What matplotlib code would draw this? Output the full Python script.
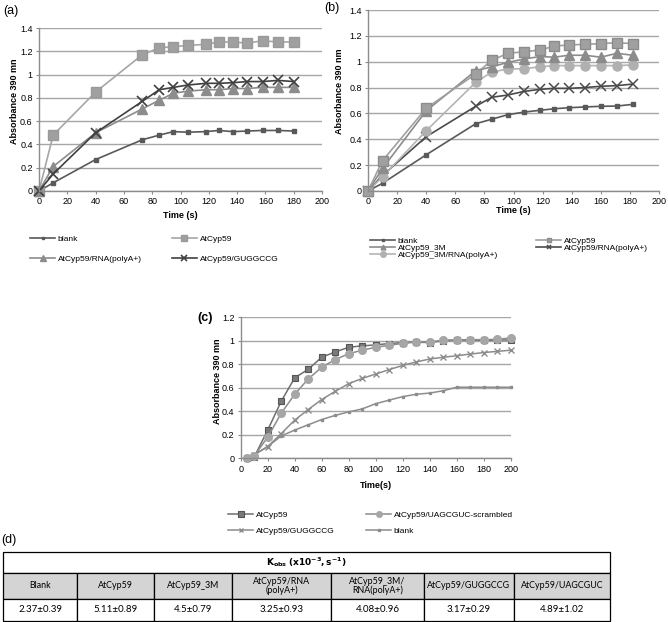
import numpy as np
import matplotlib
matplotlib.use("Agg")
import matplotlib.pyplot as plt
from matplotlib.lines import Line2D

W, H = 668, 622
CF = ['Liberation Sans Narrow', 'Liberation Sans', 'DejaVu Sans']
plt.rcParams['font.family'] = CF

# ---------------- data ----------------
ta = [0, 10, 40, 73, 85, 95, 105, 118, 127, 137, 147, 158, 169, 180]
a_blank = [0, 0.07, 0.27, 0.44, 0.48, 0.51, 0.505, 0.51, 0.52, 0.51, 0.515, 0.52, 0.52, 0.515]
a_cyp = [0, 0.48, 0.85, 1.17, 1.23, 1.24, 1.25, 1.26, 1.28, 1.28, 1.27, 1.29, 1.28, 1.28]
a_rna = [0, 0.21, 0.50, 0.705, 0.78, 0.84, 0.857, 0.87, 0.87, 0.88, 0.88, 0.89, 0.89, 0.89]
a_gug = [0, 0.146, 0.50, 0.77, 0.87, 0.89, 0.91, 0.925, 0.925, 0.93, 0.94, 0.94, 0.95, 0.94]

tb = [0, 10, 40, 74, 85, 96, 107, 118, 128, 138, 149, 160, 171, 182]
b_blank = [0, 0.06, 0.28, 0.52, 0.555, 0.59, 0.61, 0.624, 0.636, 0.644, 0.65, 0.655, 0.657, 0.67]
b_cyp = [0, 0.235, 0.64, 0.905, 1.01, 1.064, 1.077, 1.09, 1.12, 1.13, 1.134, 1.14, 1.147, 1.14]
b_3m = [0, 0.175, 0.62, 0.93, 0.96, 0.995, 1.02, 1.04, 1.035, 1.05, 1.05, 1.035, 1.065, 1.05]
b_3mrna = [0, 0.11, 0.466, 0.84, 0.92, 0.943, 0.946, 0.96, 0.97, 0.97, 0.97, 0.97, 0.97, 0.975]
b_rna = [0, 0.12, 0.42, 0.655, 0.725, 0.742, 0.77, 0.786, 0.794, 0.794, 0.80, 0.81, 0.815, 0.827]

tc = [5, 10, 20, 30, 40, 50, 60, 70, 80, 90, 100, 110, 120, 130, 140, 150, 160, 170, 180, 190, 200]
c_cyp = [0, 0.01, 0.24, 0.485, 0.685, 0.757, 0.86, 0.905, 0.945, 0.957, 0.965, 0.977, 0.985,
         0.988, 0.985, 1.0, 1.005, 1.005, 1.005, 1.005, 1.008]
c_scr = [0, 0.02, 0.18, 0.383, 0.545, 0.675, 0.775, 0.84, 0.89, 0.92, 0.945, 0.962, 0.978,
         0.99, 0.99, 1.005, 1.008, 1.01, 1.01, 1.012, 1.025]
c_gug = [0, 0.03, 0.1, 0.21, 0.325, 0.415, 0.5, 0.57, 0.635, 0.68, 0.717, 0.755, 0.79,
         0.82, 0.845, 0.86, 0.873, 0.887, 0.9, 0.91, 0.92]
c_blank = [0, 0.03, 0.1, 0.19, 0.24, 0.285, 0.33, 0.365, 0.395, 0.42, 0.465, 0.495, 0.525,
           0.545, 0.555, 0.575, 0.605, 0.605, 0.605, 0.605, 0.605]

tbl_cols = ['Blank', 'AtCyp59', 'AtCyp59_3M', 'AtCyp59/RNA\n(polyA+)', 'AtCyp59_3M/\nRNA(polyA+)',
            'AtCyp59/GUGGCCG', 'AtCyp59/UAGCGUC']
tbl_vals = ['2.37±0.39', '5.11±0.89', '4.5±0.79', '3.25±0.93', '4.08±0.96', '3.17±0.29', '4.89±1.02']
tbl_title = r'$\mathbf{K_{obs}}$ $\mathbf{(x10^{-3},s^{-1})}$'

# ---------------- figure ----------------
fig = plt.figure(figsize=(W / 100, H / 100), dpi=100)


def px_axes(l, t, r, b):
    return fig.add_axes([l / W, 1 - b / H, (r - l) / W, (b - t) / H])


GRID = '#a6a6a6'


def style(ax, ymax, ystep, ylabel, xlabel, ylab_x, xlab_y):
    ax.set_xlim(0, 200)
    ax.set_ylim(0, ymax)
    ax.set_xticks(range(0, 201, 20))
    yt = np.round(np.arange(0, ymax + 1e-9, ystep), 2)
    ax.set_yticks(yt)
    ax.set_yticklabels(['%g' % v for v in yt])
    ax.yaxis.grid(True, color=GRID, lw=1.0)
    ax.set_axisbelow(True)
    for s in ('top', 'right'):
        ax.spines[s].set_visible(False)
    for s in ('left', 'bottom'):
        ax.spines[s].set_color('#8c8c8c')
        ax.spines[s].set_linewidth(1.0)
    ax.tick_params(length=2.5, width=0.8, color='#8c8c8c', labelsize=6.5, pad=2)
    ax.set_ylabel(ylabel, fontsize=6.5, fontweight='bold')
    ax.set_xlabel(xlabel, fontsize=6.5, fontweight='bold')
    ax.yaxis.set_label_coords(ylab_x, 0.55)
    ax.xaxis.set_label_coords(0.5, xlab_y)


def col_legend(items, x_px, y_top_px, fs=6, spacing=1.4, hl=3.0):
    hs = [Line2D([], [], **kw) for kw, _ in items]
    ls = [lab for _, lab in items]
    fig.legend(hs, ls, loc='upper left', bbox_to_anchor=(x_px / W, 1 - y_top_px / H),
               frameon=False, borderpad=0, borderaxespad=0, fontsize=fs, handlelength=hl,
               handletextpad=0.3, labelspacing=spacing)


def small(d, ms):
    d = dict(d)
    d['ms'] = ms
    return d


# ---- (a)
axa = px_axes(39, 28, 322, 191)
sa = {
    'blank': dict(color='#595959', lw=1.2, marker='s', ms=2.5, mfc='#595959', mec='#595959'),
    'cyp': dict(color='#a6a6a6', lw=1.2, marker='s', ms=7, mfc='#a0a0a0', mec='#9a9a9a'),
    'rna': dict(color='#8c8c8c', lw=1.2, marker='^', ms=7, mfc='#8c8c8c', mec='#8c8c8c'),
    'gug': dict(color='#404040', lw=1.2, marker='x', ms=7, mew=1.2, mec='#404040'),
}
axa.plot(ta, a_blank, clip_on=False, **sa['blank'])
axa.plot(ta, a_cyp, clip_on=False, **sa['cyp'])
axa.plot(ta, a_rna, clip_on=False, **sa['rna'])
axa.plot(ta, a_gug, clip_on=False, **sa['gug'])
style(axa, 1.4, 0.2, 'Absorbance 390 mn', 'Time (s)', -0.072, -0.125)

col_legend([(small(sa['blank'], 2), 'blank'), (small(sa['rna'], 4), 'AtCyp59/RNA(polyA+)')],
           30, 235, spacing=1.45)
col_legend([(small(sa['cyp'], 4.5), 'AtCyp59'), (small(sa['gug'], 4), 'AtCyp59/GUGGCCG')],
           172, 235, spacing=1.45)

# ---- (b)
axb = px_axes(368, 10, 659, 191)
sb = {
    'blank': dict(color='#595959', lw=1.2, marker='s', ms=2.5, mfc='#595959', mec='#595959'),
    'cyp': dict(color='#a0a0a0', lw=1.2, marker='s', ms=6.5, mfc='#a0a0a0', mec='#8c8c8c'),
    '3m': dict(color='#8c8c8c', lw=1.2, marker='^', ms=6.5, mfc='#8c8c8c', mec='#8c8c8c'),
    '3mrna': dict(color='#b4b4b4', lw=1.2, marker='o', ms=6.5, mfc='#b0b0b0', mec='#b0b0b0'),
    'rna': dict(color='#4a4a4a', lw=1.2, marker='x', ms=6.5, mew=1.1, mec='#4a4a4a'),
}
axb.plot(tb, b_blank, clip_on=False, **sb['blank'])
axb.plot(tb, b_rna, clip_on=False, **sb['rna'])
axb.plot(tb, b_3mrna, clip_on=False, **sb['3mrna'])
axb.plot(tb, b_3m, clip_on=False, **sb['3m'])
axb.plot(tb, b_cyp, clip_on=False, **sb['cyp'])
style(axb, 1.4, 0.2, 'Absorbance 390 nm', 'Time (s)', -0.082, -0.085)

col_legend([(small(sb['blank'], 2), 'blank'), (small(sb['3m'], 3.5), 'AtCyp59_3M'),
            (small(sb['3mrna'], 4), 'AtCyp59_3M/RNA(polyA+)')], 370, 237, spacing=-0.12, fs=6)
col_legend([(small(sb['cyp'], 3.5), 'AtCyp59'), (small(sb['rna'], 3.5), 'AtCyp59/RNA(polyA+)')],
           536, 237, spacing=-0.12, fs=6)

# ---- (c)
axc = px_axes(240.7, 317.3, 510.7, 458.3)
sc = {
    'cyp': dict(color='#6e6e6e', lw=1.1, marker='s', ms=5, mfc='#7a7a7a', mec='#555555', mew=0.8),
    'scr': dict(color='#8c8c8c', lw=1.1, marker='o', ms=5.5, mfc='#a6a6a6', mec='#a6a6a6'),
    'gug': dict(color='#8c8c8c', lw=1.1, marker='x', ms=5, mew=1.0, mec='#8c8c8c'),
    'blank': dict(color='#8c8c8c', lw=1.1, marker='s', ms=2, mfc='#8c8c8c', mec='#8c8c8c'),
}
axc.plot(tc, c_blank, clip_on=False, **sc['blank'])
axc.plot(tc, c_gug, clip_on=False, **sc['gug'])
axc.plot(tc, c_cyp, clip_on=False, **sc['cyp'])
axc.plot(tc, c_scr, clip_on=False, **sc['scr'])
style(axc, 1.2, 0.2, 'Absorbance 390 mn', 'Time(s)', -0.07, -0.16)

col_legend([(small(sc['cyp'], 4), 'AtCyp59'), (small(sc['gug'], 3.5), 'AtCyp59/GUGGCCG')],
           228, 511, spacing=0.95)
col_legend([(small(sc['scr'], 4), 'AtCyp59/UAGCGUC-scrambled'), (small(sc['blank'], 2), 'blank')],
           366, 511, spacing=0.95)

# ---- panel labels
PF = ['Liberation Sans', 'DejaVu Sans']
fig.text(3 / W, 1 - 11 / H, '(a)', fontsize=9, family=PF, va='center')
fig.text(324 / W, 1 - 8 / H, '(b)', fontsize=9, family=PF, va='center')
fig.text(197 / W, 1 - 318 / H, '(c)', fontsize=9, fontweight='bold', family=PF, va='center')
fig.text(1 / W, 1 - 540 / H, '(d)', fontsize=9, family=PF, va='center')

# ---- (d) table
TF = ['Lato', 'DejaVu Sans']
bounds = [3, 77, 154, 232, 331, 424, 514, 610]
widths = [(bounds[i + 1] - bounds[i]) / (bounds[-1] - bounds[0]) for i in range(len(bounds) - 1)]

axt1 = px_axes(3, 552, 610, 573)
axt1.axis('off')
t1 = axt1.table(cellText=[[tbl_title]], bbox=[0, 0, 1, 1], cellLoc='center')
t1.auto_set_font_size(False)
for (r, c), cell in t1.get_celld().items():
    cell.set_linewidth(0.9)
    cell.get_text().set_fontsize(6.5)
    cell.get_text().set_family(TF)

axt2 = px_axes(3, 573, 610, 621)
axt2.axis('off')
t2 = axt2.table(cellText=[tbl_cols, tbl_vals], colWidths=widths, bbox=[0, 0, 1, 1], cellLoc='center')
t2.auto_set_font_size(False)
for (r, c), cell in t2.get_celld().items():
    cell.set_linewidth(0.9)
    cell.get_text().set_family(TF)
    cell.get_text().set_linespacing(1.0)
    if r == 0:
        cell.get_text().set_fontsize(6.4)
        cell.set_facecolor('#d4d4d4')
        cell.set_height(0.54)
    else:
        cell.get_text().set_fontsize(7)
        cell.set_height(0.46)

fig.savefig('out.png', dpi=100)
